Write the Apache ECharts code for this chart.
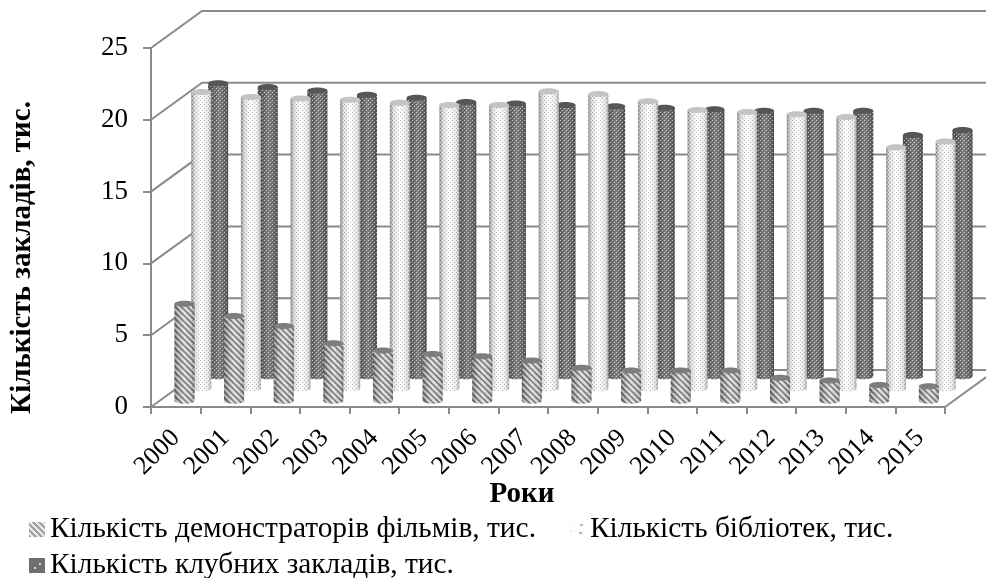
<!DOCTYPE html>
<html><head><meta charset="utf-8">
<style>html,body{margin:0;padding:0;background:#fff}#c{width:986px;height:578px}</style>
<script src="https://cdn.jsdelivr.net/npm/echarts@6/dist/echarts.min.js"></script>
</head><body><div id="c"></div>
<script>
const years=['2000','2001','2002','2003','2004','2005','2006','2007','2008','2009','2010','2011','2012','2013','2014','2015'];
const yTicks=[0,5,10,15,20,25];
const projectors=[6.75,5.9,5.2,4.0,3.5,3.25,3.1,2.8,2.3,2.1,2.1,2.1,1.6,1.4,1.1,1.0];
const libraries=[20.65,20.3,20.2,20.1,19.9,19.75,19.75,20.7,20.5,20.0,19.4,19.25,19.1,18.9,16.8,17.2];
const clubs=[20.4,20.15,19.9,19.6,19.4,19.1,19.0,18.9,18.8,18.7,18.6,18.5,18.5,18.5,16.8,17.15];
const names=['Кількість демонстраторів фільмів, тис.','Кількість бібліотек, тис.','Кількість клубних закладів, тис.'];

const DX=51,DY=37,GRID='#8a8a8a',FONT='"Liberation Serif","Times New Roman",serif';

function tile(w,h,draw){const c=document.createElement('canvas');c.width=w;c.height=h;draw(c.getContext('2d'));return {image:c,repeat:'repeat'};}
function px(g,col,list){g.fillStyle=col;list.forEach(p=>g.fillRect(p[0],p[1],1,1));}
const stripes=tile(6,6,g=>{
  g.fillStyle='rgba(60,60,60,0.5)';
  for(let i=0;i<6;i++){g.fillRect(i,i,1,1);g.fillRect((i+1)%6,i,1,1);}
  g.fillStyle='rgba(255,255,255,0.45)';
  for(let i=0;i<6;i++){g.fillRect((i+3)%6,i,2,1);}
});
const specks=tile(4,4,g=>{px(g,'rgba(100,100,100,0.38)',[[0,0],[2,2]]);px(g,'rgba(255,255,255,0.5)',[[2,0],[0,2]]);});
const holes=tile(4,4,g=>{px(g,'rgba(225,225,225,0.7)',[[0,0],[2,2]]);px(g,'rgba(40,40,40,0.35)',[[1,1],[3,3],[2,0],[0,2]]);});
const iconClub=tile(16,15,g=>{g.fillStyle='#6f6f6f';g.fillRect(0,0,16,15);g.fillStyle='#d8d8d8';g.fillRect(10,5,2,2);g.fillRect(5,9,2,2);});
const iconFilm=tile(16,15,g=>{g.fillStyle='#e8e8e8';g.fillRect(0,0,16,15);g.fillStyle='#a2a2a2';
  for(let i=-15;i<16;i+=6){for(let t=0;t<15;t++){g.fillRect(i+t,t,3,1);}}});
const iconLib=tile(16,15,g=>{g.fillStyle='#fdfdfd';g.fillRect(0,0,16,15);g.fillStyle='#b5b5b5';g.fillRect(11,2,3,2);g.fillRect(10,10,3,2);g.fillStyle='#e6e6e6';g.fillRect(1,8,2,2);});

function grad(stops){return {type:'linear',x:0,y:0,x2:1,y2:0,colorStops:stops.map(s=>({offset:s[0],color:s[1]}))};}
const looks=[
 {w:20,f:0.17,body:grad([[0,'#6e6e6e'],[0.2,'#a8a8a8'],[0.5,'#d0d0d0'],[0.85,'#b4b4b4'],[1,'#808080']]),over:stripes,cap:'#7d7d7d'},
 {w:20,f:0.5,body:grad([[0,'#8d8d8d'],[0.18,'#dcdcdc'],[0.5,'#ffffff'],[0.85,'#e6e6e6'],[1,'#a8a8a8']]),over:specks,cap:'#c4c4c4'},
 {w:20,f:0.83,body:grad([[0,'#4e4e4e'],[0.3,'#6e6e6e'],[0.55,'#8a8a8a'],[0.85,'#6a6a6a'],[1,'#4c4c4c']]),over:holes,cap:'#565656'}
];

function cylinder(k){
  const L=looks[k];
  return function(params,api){
    const i=api.value(0),v=api.value(1);
    const top=api.coord([i,v]),base=api.coord([i,0]);
    const ox=DX*L.f,oy=DY*L.f;
    const cx=top[0]+ox,ty=top[1]-oy,by=base[1]-oy;
    const rx=L.w/2,ry=3;
    const pts=[[cx-rx,ty]];
    for(let a=0;a<=16;a++){const t=Math.PI*(1-a/16);pts.push([cx+rx*Math.cos(t),by+ry*Math.sin(t)]);}
    pts.push([cx+rx,ty]);
    return {type:'group',children:[
      {type:'polygon',shape:{points:pts},style:{fill:L.body}},
      {type:'polygon',shape:{points:pts},style:{fill:L.over}},
      {type:'ellipse',shape:{cx:cx,cy:ty,rx:rx,ry:ry},style:{fill:L.cap}}
    ]};
  };
}
function wall(params,api){
  const cs=params.coordSys,v=api.value(1),y=api.coord([0,v])[1];
  const x0=cs.x,x1=cs.x+cs.width;
  const ch=[{type:'polyline',shape:{points:[[x0,y],[x0+DX,y-DY],[x1+DX,y-DY]]},style:{stroke:GRID,lineWidth:2,fill:null}}];
  if(v===0)ch.push({type:'line',shape:{x1:x1,y1:y,x2:x1+DX,y2:y-DY},style:{stroke:GRID,lineWidth:2}});
  return {type:'group',children:ch};
}
const series=[
 {type:'custom',name:'wall',z:1,silent:true,clip:false,renderItem:wall,data:yTicks.map(v=>[0,v]),encode:{x:0,y:1}},
 {type:'custom',name:names[2],z:2,clip:false,renderItem:cylinder(2),data:clubs.map((v,i)=>[i,v]),encode:{x:0,y:1},itemStyle:{color:'#6a6a6a'}},
 {type:'custom',name:names[1],z:3,clip:false,renderItem:cylinder(1),data:libraries.map((v,i)=>[i,v]),encode:{x:0,y:1},itemStyle:{color:'#eeeeee'}},
 {type:'custom',name:names[0],z:4,clip:false,renderItem:cylinder(0),data:projectors.map((v,i)=>[i,v]),encode:{x:0,y:1},itemStyle:{color:'#b0b0b0'}}
];
const legendText={fontFamily:FONT,fontSize:29.4,color:'#000'};
const chart=echarts.init(document.getElementById('c'),null,{renderer:'canvas'});
chart.setOption({
  animation:false,backgroundColor:'#fff',
  grid:{left:150,top:48,width:795,height:359},
  xAxis:{type:'category',data:years,boundaryGap:true,
    axisLine:{lineStyle:{color:GRID,width:2}},
    axisTick:{show:true,length:7,lineStyle:{color:GRID,width:2},alignWithLabel:false},
    axisLabel:{interval:0,rotate:45,fontFamily:FONT,fontSize:26,color:'#000',margin:27},
    splitLine:{show:false},
    name:'Роки',nameLocation:'middle',nameGap:73,nameMoveOverlap:false,nameTextStyle:{fontFamily:FONT,fontSize:29,fontWeight:'bold',color:'#000',padding:[0,52,0,0]}},
  yAxis:{type:'value',min:0,max:25,interval:5,
    axisLine:{show:true,lineStyle:{color:GRID,width:2}},
    axisTick:{show:true,length:8,lineStyle:{color:GRID,width:2}},
    axisLabel:{fontFamily:FONT,fontSize:27,color:'#000',margin:23},
    splitLine:{show:false},
    name:'Кількість закладів, тис.',nameLocation:'middle',nameGap:114,nameMoveOverlap:false,nameTextStyle:{fontFamily:FONT,fontSize:29,fontWeight:'bold',color:'#000',padding:[0,60,0,0]}},
  legend:[
   {left:24,top:510,itemWidth:16,itemHeight:15,itemGap:33,icon:'rect',textStyle:legendText,
    data:[{name:names[0],itemStyle:{color:iconFilm}},{name:names[1],itemStyle:{color:iconLib}}],selectedMode:false},
   {left:24,top:546,itemWidth:16,itemHeight:15,icon:'rect',textStyle:legendText,
    data:[{name:names[2],itemStyle:{color:iconClub}}],selectedMode:false}
  ],
  series:series
});
</script></body></html>
